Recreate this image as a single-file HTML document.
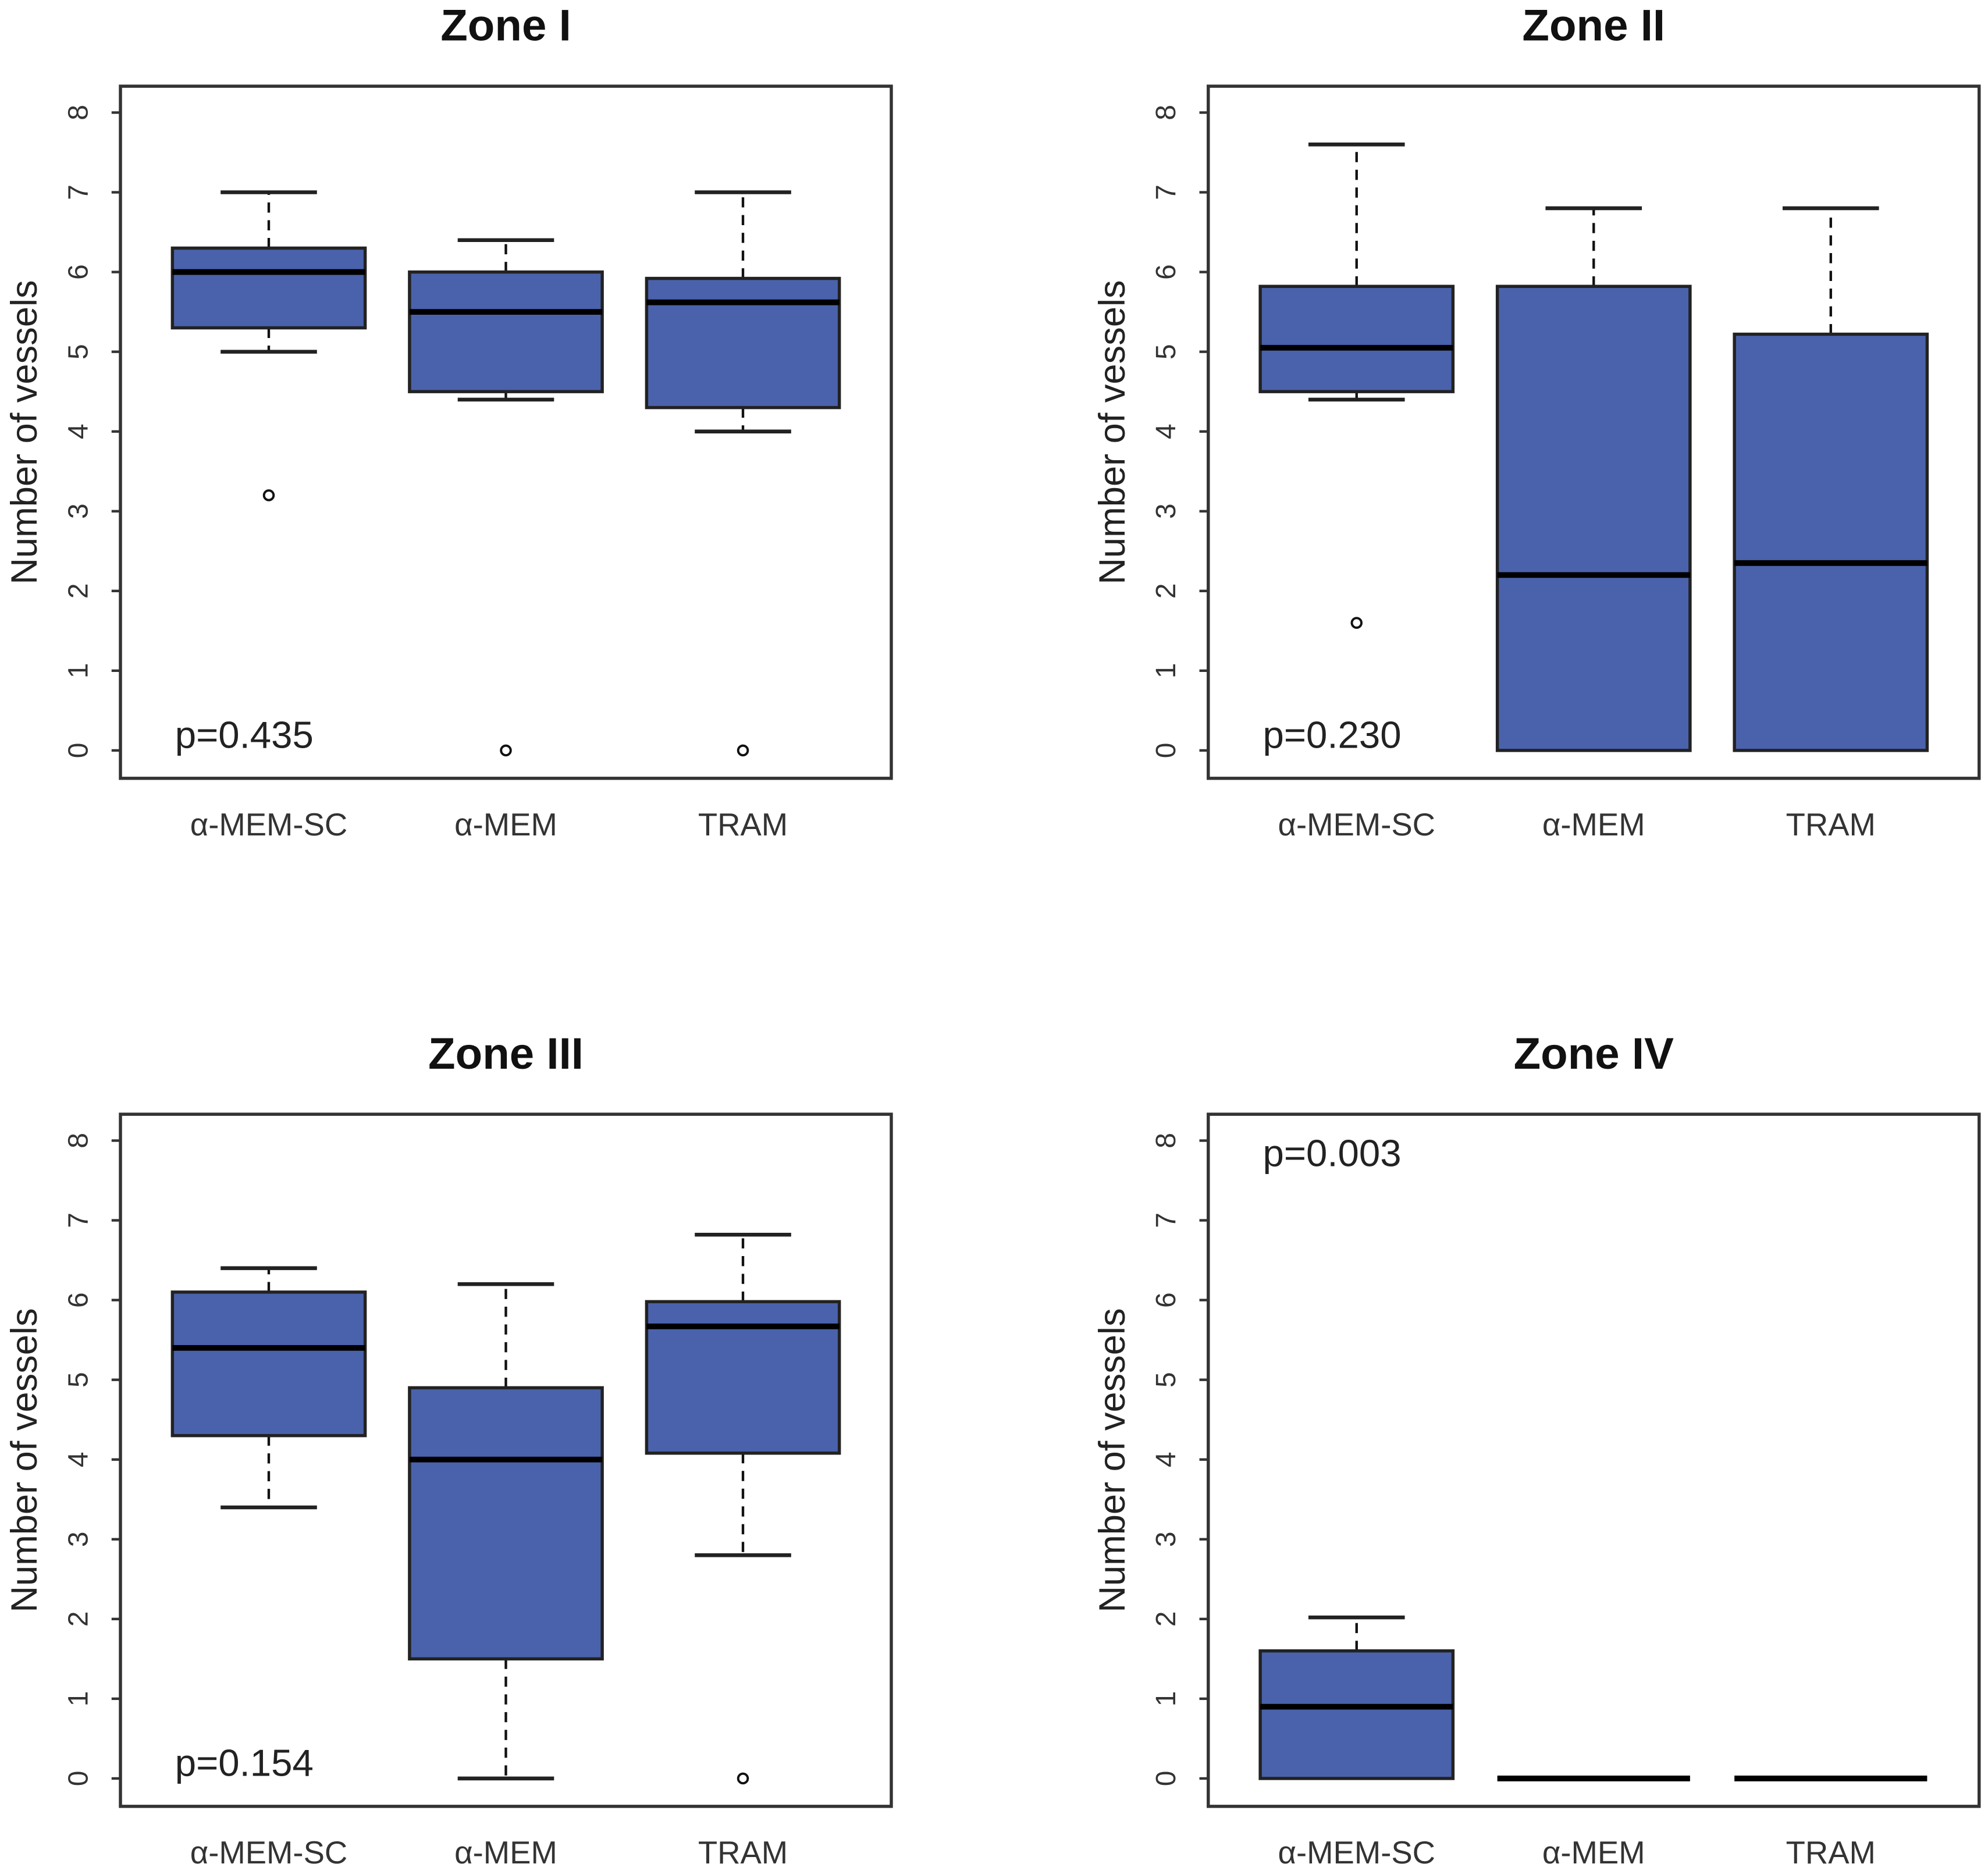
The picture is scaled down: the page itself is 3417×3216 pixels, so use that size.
<!DOCTYPE html>
<html><head><meta charset="utf-8"><style>html,body{margin:0;padding:0;background:#fff}svg{display:block}</style></head>
<body>
<svg id="fig" width="3417" height="3216" viewBox="0 0 1568 1476" preserveAspectRatio="none" xmlns="http://www.w3.org/2000/svg" font-family="Liberation Sans, sans-serif"></svg>
<script>
const categories = ["α-MEM-SC", "α-MEM", "TRAM"];
const zoneTitles = ["Zone I", "Zone II", "Zone III", "Zone IV"];
const pValues = ["p=0.435", "p=0.230", "p=0.154", "p=0.003"];
const pAtTop = [false, false, false, true];
const yTicks = [0, 1, 2, 3, 4, 5, 6, 7, 8];
// [whiskerLow, q1, median, q3, whiskerHigh] per category
const zone1Stats = [[5, 5.3, 6.0, 6.3, 7], [4.4, 4.5, 5.5, 6.0, 6.4], [4, 4.3, 5.62, 5.92, 7]];
const zone2Stats = [[4.4, 4.5, 5.05, 5.82, 7.6], [0, 0, 2.2, 5.82, 6.8], [0, 0, 2.35, 5.22, 6.8]];
const zone3Stats = [[3.4, 4.3, 5.4, 6.1, 6.4], [0, 1.5, 4.0, 4.9, 6.2], [2.8, 4.08, 5.67, 5.98, 6.82]];
const zone4Stats = [[0, 0, 0.9, 1.6, 2.02], [0, 0, 0, 0, 0], [0, 0, 0, 0, 0]];
const zone1Outliers = [[3.2], [0], [0]];
const zone2Outliers = [[1.6], [], []];
const zone3Outliers = [[], [], [0]];
const zone4Outliers = [[], [], []];
const allStats = [zone1Stats, zone2Stats, zone3Stats, zone4Stats];
const allOutliers = [zone1Outliers, zone2Outliers, zone3Outliers, zone4Outliers];

const svg = document.getElementById('fig');
const NS = 'http://www.w3.org/2000/svg';
function mk(tag, attrs, parent) {
  const e = document.createElementNS(NS, tag);
  for (const k in attrs) e.setAttribute(k, attrs[k]);
  parent.appendChild(e);
  return e;
}
const panels = [{x0: 95, y0: 68}, {x0: 953, y0: 68}, {x0: 95, y0: 879}, {x0: 953, y0: 879}];
const W = 608, H = 546, boxHalf = 76, capHalf = 38;
panels.forEach((p, i) => {
  const g = mk('g', {}, svg);
  
  
  const yS = v => p.y0 + 524 - v * 62.9;
  const xS = c => p.x0 + 117 + c * 187;
  const t = mk('text', {x: p.x0 + 304, y: p.y0 - 36, 'text-anchor': 'middle', 'font-size': 35, 'font-weight': 'bold', fill: '#111'}, g);
  t.textContent = zoneTitles[i];
  
  
  const fr = mk('rect', {x: p.x0, y: p.y0, width: W, height: H, fill: 'none', stroke: '#333', 'stroke-width': 2.5}, g);
  
  
  yTicks.forEach(v => {
    const tk = mk('line', {x1: p.x0 - 7, x2: p.x0, y1: yS(v), y2: yS(v), stroke: '#333', 'stroke-width': 2}, g);
    
    
    const tl = mk('text', {x: 0, y: 0, transform: `translate(${p.x0 - 26},${yS(v)}) rotate(-90)`, 'text-anchor': 'middle', 'font-size': 22, fill: '#333'}, g);
    tl.textContent = v;
    
    
  });
  const yl = mk('text', {x: 0, y: 0, transform: `translate(${p.x0 - 66},${p.y0 + 273}) rotate(-90)`, 'text-anchor': 'middle', 'font-size': 29, fill: '#222'}, g);
  yl.textContent = 'Number of vessels';
  
  
  categories.forEach((c, j) => {
    const xl = mk('text', {x: xS(j), y: p.y0 + 591, 'text-anchor': 'middle', 'font-size': 25, fill: '#333'}, g);
    xl.textContent = c;
    
    
    const s = allStats[i][j];
    const cx = xS(j);
    if (s[4] > s[3]) {
      const w1 = mk('line', {x1: cx, x2: cx, y1: yS(s[3]), y2: yS(s[4]), stroke: '#111', 'stroke-width': 2, 'stroke-dasharray': '8,6'}, g);
      
      
    }
    if (s[1] > s[0]) {
      const w2 = mk('line', {x1: cx, x2: cx, y1: yS(s[1]), y2: yS(s[0]), stroke: '#111', 'stroke-width': 2, 'stroke-dasharray': '8,6'}, g);
      
      
    }
    if (s[4] !== s[3]) {
      const c1 = mk('line', {x1: cx - capHalf, x2: cx + capHalf, y1: yS(s[4]), y2: yS(s[4]), stroke: '#222', 'stroke-width': 3}, g);
      
      
    }
    if (s[0] !== s[1]) {
      const c2 = mk('line', {x1: cx - capHalf, x2: cx + capHalf, y1: yS(s[0]), y2: yS(s[0]), stroke: '#222', 'stroke-width': 3}, g);
      
      
    }
    if (s[3] > s[1]) {
      const b = mk('rect', {x: cx - boxHalf, y: yS(s[3]), width: boxHalf * 2, height: yS(s[1]) - yS(s[3]), fill: '#4a62ab', stroke: '#222', 'stroke-width': 2.5}, g);
      
      
    }
    const m = mk('line', {x1: cx - boxHalf, x2: cx + boxHalf, y1: yS(s[2]), y2: yS(s[2]), stroke: '#000', 'stroke-width': 4.5}, g);
    
    
    allOutliers[i][j].forEach(o => {
      const ci = mk('circle', {cx: cx, cy: yS(o), r: 3.8, fill: 'none', stroke: '#111', 'stroke-width': 1.8}, g);
      
      
    });
  });
  const pt = mk('text', {x: p.x0 + 43, y: pAtTop[i] ? p.y0 + 41 : p.y0 + 522, 'font-size': 30, fill: '#222'}, g);
  pt.textContent = pValues[i];
  
  
});
</script>
</body></html>
